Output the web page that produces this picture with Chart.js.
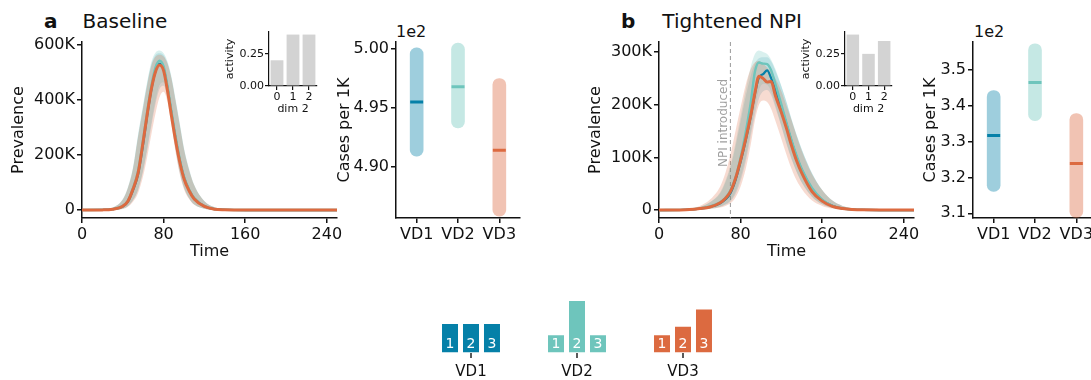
<!DOCTYPE html>
<html>
<head>
<meta charset="utf-8">
<script src="https://cdn.jsdelivr.net/npm/chart.js@4.4.1/dist/chart.umd.min.js"></script>
<style>
html, body { margin: 0; padding: 0; width: 1091px; height: 380px; overflow: hidden; background: #fff; }
canvas { position: absolute; }
.txt { position: absolute; font-family: 'DejaVu Sans'; color: #111; white-space: nowrap; }
.panel { font-size: 20px; line-height: 20px; }
.offset { font-size: 16px; line-height: 16px; }
</style>
</head>
<body>
<div class="txt panel" style="left:44px; top:11px"><b style="margin-right:25px">a</b>Baseline</div>
<div class="txt panel" style="left:621px; top:11px"><b style="margin-right:27px">b</b>Tightened NPI</div>
<div class="txt offset" style="left:396px; top:24px">1e2</div>
<div class="txt offset" style="left:974px; top:24px">1e2</div>

<canvas id="lineA" width="345" height="270" style="left:0px; top:0px"></canvas>
<canvas id="rangeA" width="200" height="270" style="left:330px; top:0px"></canvas>
<canvas id="insetA" width="110" height="100" style="left:215px; top:20px"></canvas>
<canvas id="lineB" width="345" height="270" style="left:577px; top:0px"></canvas>
<canvas id="rangeB" width="192" height="270" style="left:915px; top:0px"></canvas>
<canvas id="insetB" width="109" height="100" style="left:791px; top:20px"></canvas>
<canvas id="legendVD" width="340" height="90" style="left:410px; top:290px"></canvas>

<script>
// ---- data ----
var vdNames = ['VD1', 'VD2', 'VD3']
var doseLabels = ['1', '2', '3']
var timeTicks = [0, 80, 160, 240]
var npiTime = 70

// panel a: baseline (prevalence in thousands)
var timeA = [0, 20, 30, 40, 45, 50, 55, 60, 64, 68, 72, 76, 80, 84, 88, 92, 96, 100, 105, 110, 120, 130, 140, 160, 200, 250]
var meanA1 = [0, 0.5, 3, 13, 30, 72, 130, 242, 345, 438, 505, 532, 515, 440, 345, 255, 178, 118, 72, 42, 14, 3, 1, 0, 0, 0]
var meanA2 = [0, 0.6, 3.5, 15, 34, 80, 142, 258, 360, 452, 518, 543, 522, 446, 352, 262, 183, 122, 75, 44, 14, 3, 1, 0, 0, 0]
var meanA3 = [0, 0.5, 3, 14, 32, 76, 135, 250, 350, 440, 502, 527, 507, 430, 336, 247, 172, 114, 70, 40, 13, 3, 1, 0, 0, 0]
var lowA1 = [0, 0, 1, 5, 14, 35, 72, 142, 218, 305, 385, 440, 452, 405, 312, 212, 132, 80, 42, 20, 5, 1, 0, 0, 0, 0]
var highA1 = [0, 1.5, 8, 38, 80, 152, 270, 378, 462, 530, 563, 570, 563, 532, 475, 392, 308, 222, 146, 90, 32, 10, 3, 0.5, 0, 0]
var lowA2 = [0, 0, 1, 5, 15, 37, 76, 148, 228, 318, 398, 455, 465, 418, 322, 220, 138, 83, 44, 21, 5, 1, 0, 0, 0, 0]
var highA2 = [0, 1.6, 8.5, 40, 84, 156, 276, 384, 468, 538, 572, 580, 570, 538, 480, 398, 312, 226, 150, 92, 33, 10, 3, 0.5, 0, 0]
var lowA3 = [0, 0, 0.8, 4, 12, 30, 62, 125, 195, 275, 350, 410, 430, 390, 300, 205, 128, 76, 40, 19, 5, 1, 0, 0, 0, 0]
var highA3 = [0, 1.5, 8, 38, 80, 150, 266, 372, 456, 524, 557, 565, 558, 530, 472, 390, 305, 220, 145, 90, 32, 10, 3, 0.5, 0, 0]
var prevTicksA = [0, 200, 400, 600]
var activityA = [0.2, 0.4, 0.4]
var casesLowA = [490.9, 493.3, 485.8]
var casesHighA = [500.1, 500.5, 497.5]
var casesMedA = [495.5, 496.8, 491.4]
var casesTicksA = [490, 495, 500]

// panel b: tightened NPI
var timeB = [0, 20, 30, 40, 50, 60, 65, 70, 75, 80, 85, 90, 94, 98, 102, 106, 110, 114, 120, 125, 130, 135, 140, 150, 160, 170, 180, 200, 250]
var meanB1 = [0, 0.2, 0.8, 2.5, 6, 13, 20, 32, 57, 92, 132, 178, 220, 252, 258, 265, 250, 230, 195, 163, 130, 100, 76, 40, 19, 8, 3, 0.5, 0]
var meanB2 = [0, 0.3, 1, 3, 7, 15, 23, 37, 62, 100, 148, 205, 262, 280, 278, 277, 265, 240, 200, 165, 132, 103, 78, 42, 20, 8, 3, 0.5, 0]
var meanB3 = [0, 0.3, 1, 3, 6, 14, 22, 35, 60, 95, 135, 180, 222, 254, 250, 243, 244, 218, 185, 155, 122, 93, 70, 35, 17, 7, 3, 0.5, 0]
var lowB1 = [0, 0, 0.3, 1, 2.5, 6, 10, 16, 30, 55, 92, 140, 180, 212, 225, 228, 218, 195, 158, 125, 96, 72, 52, 25, 11, 4, 1.5, 0.2, 0]
var highB1 = [0, 0.8, 2.5, 6, 15, 32, 52, 80, 120, 168, 215, 255, 278, 288, 290, 290, 282, 265, 235, 205, 172, 142, 115, 70, 38, 18, 8, 1.5, 0]
var lowB2 = [0, 0, 0.4, 1.2, 3, 7, 11, 18, 35, 62, 100, 150, 195, 228, 240, 238, 225, 200, 160, 128, 98, 73, 53, 26, 11, 4, 1.5, 0.2, 0]
var highB2 = [0, 0.8, 2.5, 6, 15, 34, 55, 85, 128, 178, 228, 272, 296, 303, 300, 296, 285, 268, 235, 205, 172, 142, 115, 70, 38, 18, 8, 1.5, 0]
var lowB3 = [0, 0, 0.3, 1, 2.5, 5, 8, 13, 24, 45, 78, 125, 170, 200, 208, 205, 192, 170, 135, 105, 78, 56, 40, 18, 8, 3, 1, 0, 0]
var highB3 = [0, 1, 3, 8, 20, 45, 70, 105, 150, 195, 238, 268, 280, 283, 278, 270, 262, 250, 225, 198, 170, 140, 112, 68, 38, 18, 8, 1.5, 0]
var prevTicksB = [0, 100, 200, 300]
var activityB = [0.4, 0.25, 0.35]
var casesLowB = [316.1, 335.8, 308.8]
var casesHighB = [344.2, 357.2, 337.8]
var casesMedB = [331.7, 346.4, 323.9]
var casesTicksB = [310, 320, 330, 340, 350]

// vaccine distribution shares per dose (legend)
var shareVD1 = [0.333, 0.333, 0.333]
var shareVD2 = [0.2, 0.6, 0.2]
var shareVD3 = [0.2, 0.3, 0.5]
var activityTicks = [0, 0.25]

// ---- styles ----
var vdColors = ['#0580a8', '#6ec5bc', '#dc6a40']
var vdBands = ['rgba(5,128,168,0.17)', 'rgba(110,197,188,0.26)', 'rgba(220,106,64,0.24)']
var vdLight = ['rgba(5,128,168,0.39)', 'rgba(110,197,188,0.4)', 'rgba(220,106,64,0.4)']
var ink = '#111'

Chart.defaults.font.family = "'DejaVu Sans'"
Chart.defaults.font.size = 16
Chart.defaults.color = ink
Chart.defaults.animation = false
Chart.defaults.events = []
Chart.defaults.plugins.legend.display = false
Chart.defaults.plugins.tooltip.enabled = false

function pts(time, vals) {
    return time.map(function (t, k) { return {x: t, y: vals[k]} })
}

function setTicks(list) {
    return function (scale) {
        scale.ticks = list.map(function (v) { return {value: v} })
    }
}

function axisStyle(extra) {
    var base = {
        border: {display: true, color: ink, width: 1.5},
        grid: {drawOnChartArea: false, drawTicks: true, tickLength: 5, color: ink, lineWidth: 1.5, offset: false},
        ticks: {padding: 2, autoSkip: false, maxRotation: 0, color: ink}
    }
    return Object.assign(base, extra)
}

// dashed marker for NPI start
var npiPlugin = {
    id: 'npi',
    beforeDatasetsDraw: function (chart, args, opts) {
        if (opts.time == null) return
        var ctx = chart.ctx
        var area = chart.chartArea
        var x = chart.scales.x.getPixelForValue(opts.time)
        ctx.save()
        ctx.strokeStyle = '#9a9a9a'
        ctx.lineWidth = 1
        ctx.setLineDash([4, 3])
        ctx.beginPath()
        ctx.moveTo(x, area.top)
        ctx.lineTo(x, area.bottom)
        ctx.stroke()
        ctx.setLineDash([])
        ctx.translate(x - 7, 123)
        ctx.rotate(-Math.PI / 2)
        ctx.fillStyle = '#a0a0a0'
        ctx.font = "12px 'DejaVu Sans'"
        ctx.textAlign = 'center'
        ctx.textBaseline = 'middle'
        ctx.fillText('NPI introduced', 0, 0)
        ctx.restore()
    }
}

function prevalenceChart(id, time, means, lows, highs, yTicks, yMin, yMax, npi) {
    var datasets = []
    for (var i = 0; i < 3; i++) {
        // orange band ends up on top so the overlap blends to grey
        datasets.push({
            data: pts(time, lows[i]), borderColor: 'transparent', borderWidth: 0,
            pointRadius: 0, fill: false, order: 12 - i, cubicInterpolationMode: 'monotone'
        })
        datasets.push({
            data: pts(time, highs[i]), borderColor: 'transparent', borderWidth: 0,
            pointRadius: 0, fill: '-1', backgroundColor: vdBands[i], order: 12 - i,
            cubicInterpolationMode: 'monotone'
        })
    }
    var widths = [2.2, 2.4, 3]
    for (var j = 0; j < 3; j++) {
        datasets.push({
            data: pts(time, means[j]), borderColor: vdColors[j], borderWidth: widths[j],
            pointRadius: 0, fill: false, order: 3 - j, cubicInterpolationMode: 'monotone'
        })
    }
    return new Chart(document.getElementById(id), {
        type: 'line',
        data: {datasets: datasets},
        options: {
            responsive: false,
            devicePixelRatio: 1,
            layout: {padding: {top: 42, right: 8, left: 0, bottom: 0}},
            plugins: {npi: {time: npi}},
            scales: {
                x: axisStyle({
                    type: 'linear', min: 0, max: 250,
                    afterBuildTicks: setTicks(timeTicks),
                    afterFit: function (s) { s.height = 52 },
                    title: {display: true, text: 'Time', color: ink, font: {size: 16}, padding: {top: 0, bottom: 9}}
                }),
                y: axisStyle({
                    type: 'linear', min: yMin, max: yMax,
                    afterBuildTicks: setTicks(yTicks),
                    afterFit: function (s) { s.width = 82 },
                    ticks: {padding: 2, autoSkip: false, color: ink, callback: function (v) { return v === 0 ? '0' : v + 'K' }},
                    title: {display: true, text: 'Prevalence', color: ink, font: {size: 16}, padding: {top: 9, bottom: 0}}
                })
            }
        },
        plugins: [npiPlugin]
    })
}

function casesChart(id, lows, highs, meds, yTicks, yMin, yMax, digits, yWidth, padRight, titlePad) {
    return new Chart(document.getElementById(id), {
        type: 'bar',
        data: {
            labels: vdNames,
            datasets: [{
                data: lows.map(function (lo, i) { return [lo, highs[i]] }),
                backgroundColor: vdLight, borderRadius: 7, borderSkipped: false,
                barThickness: 13, order: 2
            }, {
                type: 'line', data: meds, showLine: false, pointStyle: 'line',
                pointRadius: 6.5, pointBorderWidth: 3, pointBorderColor: vdColors, order: 1
            }]
        },
        options: {
            responsive: false,
            devicePixelRatio: 1,
            layout: {padding: {top: 42, right: padRight, left: 0, bottom: 0}},
            scales: {
                x: axisStyle({
                    afterFit: function (s) { s.height = 52 }
                }),
                y: axisStyle({
                    min: yMin, max: yMax,
                    afterBuildTicks: setTicks(yTicks),
                    afterFit: function (s) { s.width = yWidth },
                    ticks: {padding: 2, autoSkip: false, color: ink, callback: function (v) { return (v / 100).toFixed(digits) }},
                    title: {display: true, text: 'Cases per 1K', color: ink, font: {size: 16}, padding: {top: titlePad, bottom: 0}}
                })
            }
        }
    })
}

function activityChart(id, values) {
    var small = {size: 11}
    return new Chart(document.getElementById(id), {
        type: 'bar',
        data: {
            labels: ['0', '1', '2'],
            datasets: [{data: values, backgroundColor: '#d3d3d3', barPercentage: 0.8, categoryPercentage: 1}]
        },
        options: {
            responsive: false,
            devicePixelRatio: 1,
            layout: {padding: {top: 12, right: 8, left: 0, bottom: 0}},
            scales: {
                x: axisStyle({
                    grid: {drawOnChartArea: false, tickLength: 4, color: ink, lineWidth: 1.2, offset: false},
                    border: {color: ink, width: 1.2},
                    ticks: {padding: 1, font: small, color: ink},
                    afterFit: function (s) { s.height = 34 },
                    title: {display: true, text: 'dim 2', color: ink, font: small, padding: {top: 0, bottom: 4}}
                }),
                y: axisStyle({
                    min: 0, max: 0.42,
                    grid: {drawOnChartArea: false, tickLength: 4, color: ink, lineWidth: 1.2},
                    border: {color: ink, width: 1.2},
                    afterBuildTicks: setTicks(activityTicks),
                    afterFit: function (s) { s.width = 54 },
                    ticks: {padding: 1, font: small, color: ink, callback: function (v) { return v.toFixed(2) }},
                    title: {display: true, text: 'activity', color: ink, font: small, padding: {top: 9, bottom: 0}}
                })
            }
        }
    })
}

// dose numbers inside the legend bars, plus a small tick under each group
var doseLabelPlugin = {
    id: 'doseLabels',
    afterDatasetsDraw: function (chart) {
        var ctx = chart.ctx
        var xs = chart.scales.x
        ctx.save()
        ctx.fillStyle = '#fff'
        ctx.font = "14px 'DejaVu Sans'"
        ctx.textAlign = 'center'
        ctx.textBaseline = 'middle'
        chart.data.datasets.forEach(function (ds, di) {
            chart.getDatasetMeta(di).data.forEach(function (bar) {
                ctx.fillText(doseLabels[di], bar.x, bar.base - 8)
            })
        })
        ctx.strokeStyle = '#222'
        ctx.lineWidth = 1.5
        chart.data.labels.forEach(function (l, i) {
            var x = xs.getPixelForTick(i)
            ctx.beginPath()
            ctx.moveTo(x, xs.top + 0.5)
            ctx.lineTo(x, xs.top + 5.5)
            ctx.stroke()
        })
        ctx.restore()
    }
}

prevalenceChart('lineA', timeA, [meanA1, meanA2, meanA3], [lowA1, lowA2, lowA3], [highA1, highA2, highA3], prevTicksA, -29, 611, null)
prevalenceChart('lineB', timeB, [meanB1, meanB2, meanB3], [lowB1, lowB2, lowB3], [highB1, highB2, highB3], prevTicksB, -15, 319, npiTime)
casesChart('rangeA', casesLowA, casesHighA, casesMedA, casesTicksA, 485.64, 500.6, 2, 66, 10, 5.4)
casesChart('rangeB', casesLowB, casesHighB, casesMedB, casesTicksB, 308.7, 357.7, 1, 58, 10, 6.4)
activityChart('insetA', activityA)
activityChart('insetB', activityB)

var shares = [shareVD1, shareVD2, shareVD3]
new Chart(document.getElementById('legendVD'), {
    type: 'bar',
    data: {
        labels: vdNames,
        datasets: doseLabels.map(function (d, k) {
            return {
                label: d,
                data: shares.map(function (s) { return s[k] }),
                backgroundColor: vdColors,
                categoryPercentage: 0.594,
                barPercentage: 0.762
            }
        })
    },
    options: {
        responsive: false,
        devicePixelRatio: 1,
        layout: {padding: {top: 11, right: 14, left: 8, bottom: 0}},
        scales: {
            x: {
                border: {display: false},
                grid: {drawOnChartArea: false, drawTicks: true, tickLength: 5, color: 'transparent', offset: false},
                ticks: {padding: 6, font: {size: 15}, color: ink},
                afterFit: function (s) { s.height = 27.5 }
            },
            y: {display: false, min: 0, max: 0.6}
        }
    },
    plugins: [doseLabelPlugin]
})
</script>
</body>
</html>
